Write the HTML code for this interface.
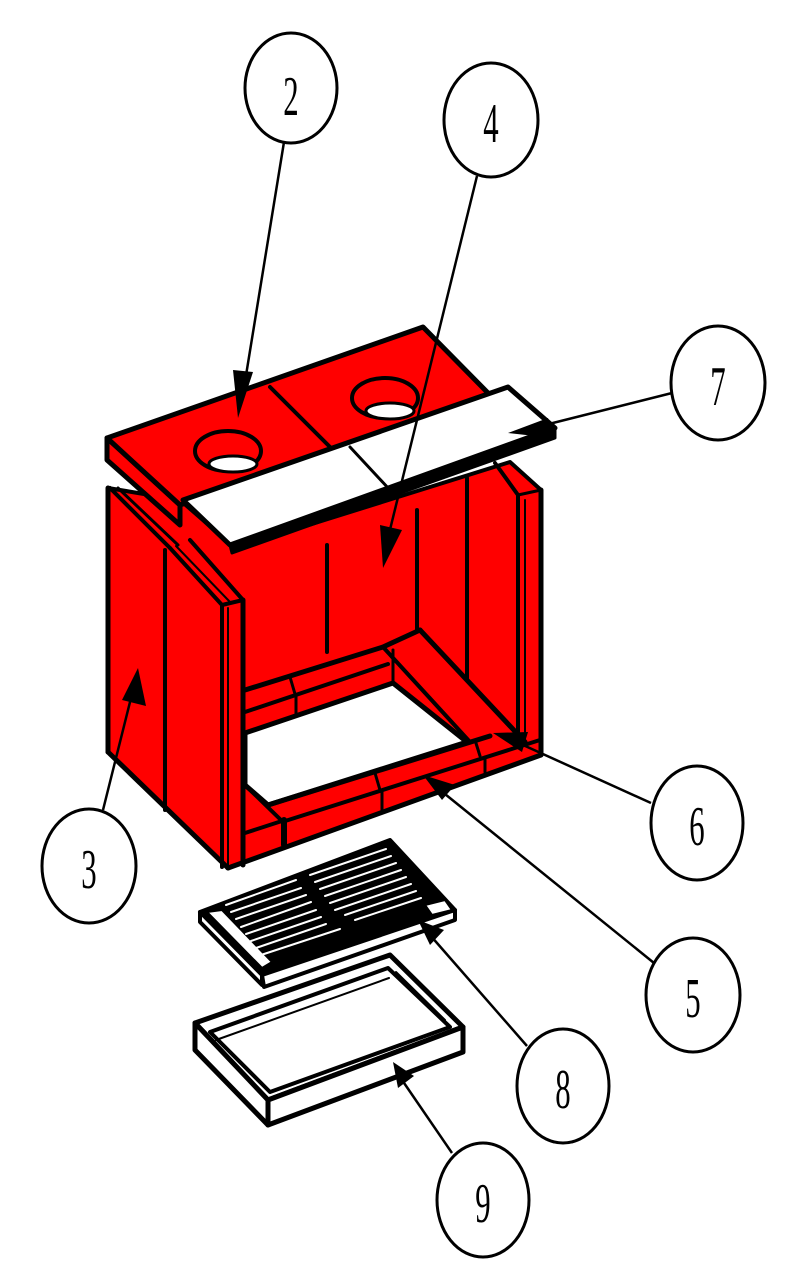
<!DOCTYPE html>
<html><head><meta charset="utf-8"><style>
html,body{margin:0;padding:0;background:#fff}
svg{display:block}
text{font-family:"Liberation Serif",serif;font-size:56px;fill:#000}
</style></head><body>
<svg width="785" height="1276" viewBox="0 0 785 1276" xmlns="http://www.w3.org/2000/svg">
<g stroke="#000" stroke-linejoin="round" stroke-linecap="round">
<polygon points="108,488 180,500 235,548 510,462 541,490 541,755 228,868 108,752" fill="#f00" stroke-width="4"/>
<polygon points="245,733 393,683 467,742 268,805 245,785" fill="#fff" stroke-width="5"/>
<polyline points="245,690 383,647 420,630" fill="none" stroke-width="5"/>
<line x1="245" y1="712" x2="388" y2="664" stroke-width="4"/>
<line x1="290" y1="677" x2="295" y2="694" stroke-width="3"/>
<line x1="296" y1="696" x2="296" y2="715" stroke-width="3"/>
<line x1="383" y1="647" x2="470" y2="742" stroke-width="4"/>
<line x1="420" y1="630" x2="525" y2="742" stroke-width="5"/>
<line x1="393" y1="683" x2="393" y2="650" stroke-width="3"/>
<line x1="268" y1="805" x2="490" y2="736" stroke-width="5"/>
<line x1="282" y1="822" x2="540" y2="740" stroke-width="4"/>
<line x1="245" y1="833" x2="285" y2="820" stroke-width="4"/>
<line x1="245" y1="785" x2="283" y2="822" stroke-width="4"/>
<line x1="284" y1="820" x2="284" y2="845" stroke-width="6"/>
<line x1="375" y1="773" x2="380" y2="790" stroke-width="3"/>
<line x1="382" y1="792" x2="382" y2="810" stroke-width="3"/>
<line x1="475" y1="740" x2="480" y2="756" stroke-width="3"/>
<line x1="485" y1="757" x2="485" y2="772" stroke-width="3"/>
<line x1="327" y1="545" x2="327" y2="652" stroke-width="4"/>
<line x1="417" y1="510" x2="417" y2="630" stroke-width="4"/>
<line x1="467" y1="478" x2="467" y2="680" stroke-width="4"/>
<polyline points="495,463 518,495 518,745" fill="none" stroke-width="4"/>
<line x1="518" y1="495" x2="541" y2="490" stroke-width="3"/>
<line x1="525" y1="500" x2="525" y2="745" stroke-width="2"/>
<line x1="541" y1="490" x2="541" y2="755" stroke-width="5"/>
<line x1="243" y1="600" x2="243" y2="865" stroke-width="5"/>
<line x1="222" y1="605" x2="222" y2="867" stroke-width="4"/>
<line x1="228" y1="608" x2="228" y2="866" stroke-width="2"/>
<polyline points="170,548 222,605 243,600 190,540" fill="none" stroke-width="4"/>
<line x1="176" y1="546" x2="230" y2="602" stroke-width="2"/>
<line x1="108" y1="488" x2="108" y2="752" stroke-width="5"/>
<line x1="110" y1="488" x2="170" y2="548" stroke-width="4"/>
<line x1="118" y1="488" x2="178" y2="545" stroke-width="3"/>
<line x1="165" y1="550" x2="165" y2="810" stroke-width="4"/>
<line x1="108" y1="752" x2="228" y2="868" stroke-width="5"/>
<line x1="228" y1="868" x2="541" y2="755" stroke-width="5"/>
<polygon points="107,460 107,438 180,505 180,525" fill="#f00" stroke-width="5"/>
<polygon points="107,438 423,327 490,395 180,505" fill="#f00" stroke-width="5"/>
<line x1="270" y1="387" x2="330" y2="447" stroke-width="4"/>
<ellipse cx="228" cy="451" rx="33" ry="20" fill="#f00" stroke-width="4"/>
<ellipse cx="233" cy="464" rx="24" ry="8" fill="#fff" stroke-width="3"/>
<ellipse cx="385" cy="398" rx="33" ry="20" fill="#f00" stroke-width="4"/>
<ellipse cx="390" cy="411" rx="24" ry="8" fill="#fff" stroke-width="3"/>
<polygon points="183,500 508,387 555,428 230,545" fill="#fff" stroke-width="5"/>
<polygon points="230,545 555,428 555,438 232,553" fill="#000" stroke-width="3"/>
<line x1="350" y1="447" x2="390" y2="490" stroke-width="3"/>
<polygon points="200,912 390,840 455,910 262,975" fill="#000" stroke-width="4"/>
<polygon points="200,912 262,975 262,985 200,922" fill="#fff" stroke-width="4"/>
<polygon points="262,975 455,910 455,920 264,987" fill="#fff" stroke-width="4"/>
<polygon points="207,912 222,910 272,962 262,968" fill="#fff" stroke-width="2"/>
<polygon points="425,905 445,900 452,910 432,915" fill="#fff" stroke-width="2"/>
<g stroke="#fff" stroke-width="2">
<line x1="226" y1="905" x2="296" y2="880"/><line x1="231" y1="912" x2="301" y2="888"/>
<line x1="236" y1="919" x2="306" y2="895"/><line x1="241" y1="927" x2="311" y2="902"/>
<line x1="246" y1="934" x2="316" y2="910"/><line x1="251" y1="941" x2="321" y2="917"/>
<line x1="256" y1="948" x2="326" y2="924"/><line x1="261" y1="955" x2="340" y2="929"/>
<line x1="310" y1="875" x2="386" y2="849"/><line x1="315" y1="882" x2="391" y2="856"/>
<line x1="320" y1="889" x2="396" y2="863"/><line x1="325" y1="896" x2="401" y2="870"/>
<line x1="330" y1="903" x2="406" y2="877"/><line x1="335" y1="910" x2="411" y2="884"/>
<line x1="345" y1="915" x2="416" y2="891"/><line x1="355" y1="920" x2="421" y2="898"/>
</g>
<polygon points="195,1023 390,955 463,1027 268,1100" fill="#fff" stroke-width="5"/>
<polygon points="195,1023 268,1100 268,1125 195,1050" fill="#fff" stroke-width="5"/>
<polygon points="268,1100 463,1027 463,1052 268,1125" fill="#fff" stroke-width="5"/>
<polygon points="210,1032 388,968 450,1027 270,1092" fill="#fff" stroke-width="4"/>
<line x1="216" y1="1040" x2="389" y2="978" stroke-width="2"/>
<line x1="396" y1="972" x2="445" y2="1020" stroke-width="2"/>
</g>
<g stroke="#000" stroke-width="2.5" fill="none">
<line x1="284" y1="142" x2="242" y2="400"/>
<line x1="477" y1="176" x2="385" y2="550"/>
<line x1="672" y1="393" x2="525" y2="430"/>
<line x1="651" y1="803" x2="512" y2="740"/>
<line x1="103" y1="810" x2="133" y2="690"/>
<line x1="654" y1="963" x2="440" y2="790"/>
<line x1="527" y1="1046" x2="430" y2="935"/>
<line x1="452" y1="1153" x2="402" y2="1080"/>
</g>
<g fill="#000">
<polygon points="238,418 233,370 253,372"/>
<polygon points="383,568 380,525 402,530"/>
<polygon points="508,433 548,418 553,438"/>
<polygon points="493,733 528,732 522,752"/>
<polygon points="138,668 146,706 122,700"/>
<polygon points="423,775 455,785 442,800"/>
<polygon points="418,920 444,930 430,945"/>
<polygon points="393,1062 414,1076 398,1088"/>
</g>
<g fill="#fff" stroke="#000" stroke-width="3">
<ellipse cx="291" cy="88" rx="46" ry="55"/>
<ellipse cx="491" cy="120" rx="47" ry="57"/>
<ellipse cx="718" cy="383" rx="47" ry="57"/>
<ellipse cx="697" cy="823" rx="46" ry="57"/>
<ellipse cx="89" cy="866" rx="47" ry="57"/>
<ellipse cx="693" cy="995" rx="47" ry="57"/>
<ellipse cx="563" cy="1086" rx="46" ry="57"/>
<ellipse cx="483" cy="1200" rx="46" ry="57"/>
</g>
<g text-anchor="middle">
<text transform="translate(291,115) scale(0.55,1)">2</text>
<text transform="translate(491,142) scale(0.55,1)">4</text>
<text transform="translate(718,405) scale(0.55,1)">7</text>
<text transform="translate(697,845) scale(0.55,1)">6</text>
<text transform="translate(89,888) scale(0.55,1)">3</text>
<text transform="translate(693,1017) scale(0.55,1)">5</text>
<text transform="translate(563,1108) scale(0.55,1)">8</text>
<text transform="translate(483,1222) scale(0.55,1)">9</text>
</g>
</svg>
</body></html>
